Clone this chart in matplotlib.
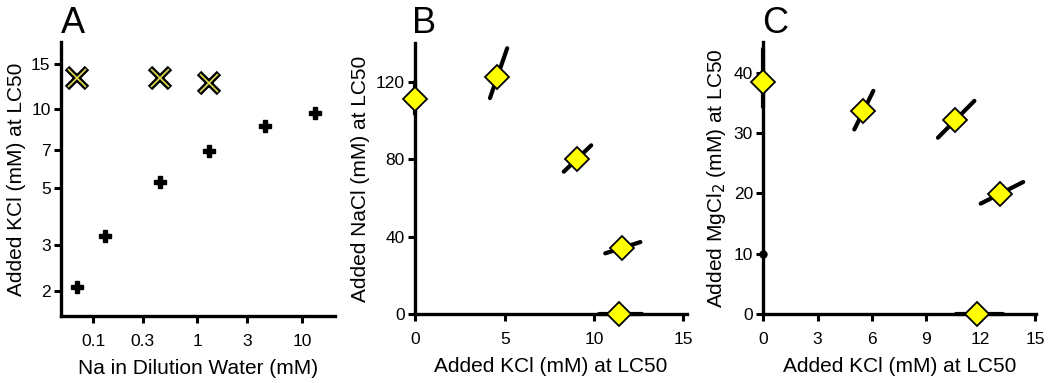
import numpy as np
import matplotlib
matplotlib.use("Agg")
from matplotlib import pyplot as plt
from matplotlib.ticker import FixedLocator, FixedFormatter, NullLocator

plt.rcParams['font.family'] = ['Liberation Sans', 'DejaVu Sans']

# panel A: Na in dilution water vs KCl LC50
na_plus = [0.070, 0.13, 0.44, 1.30, 4.4, 13.2]
kcl_plus = [2.07, 3.26, 5.27, 6.9, 8.67, 9.73]
na_x = [0.070, 0.44, 1.30]
kcl_x = [13.2, 13.2, 12.7]

# panel B: KCl + NaCl mixtures (LC50 and CI factors along the ray)
b_kcl = [0.0, 4.59, 9.03, 11.55, 11.42]
b_nacl = [111.0, 122.6, 80.0, 34.2, 0.0]
b_lo = [0.93, 0.91, 0.92, 0.92, 0.90]
b_hi = [1.08, 1.12, 1.09, 1.09, 1.11]

# panel C: KCl + MgCl2 mixtures
c_kcl = [0.0, 5.52, 10.59, 13.04, 11.79]
c_mg = [38.5, 33.6, 32.1, 19.9, 0.0]
c_lo = [0.89, 0.91, 0.91, 0.92, 0.90]
c_hi = [1.14, 1.10, 1.10, 1.10, 1.12]
c_extra_x = [0.0]
c_extra_y = [10.0]

W, H = 1050, 383
fig = plt.figure(figsize=(W / 100, H / 100), dpi=100)

LAB = 15
TICK = 12.5


def box(l, r, t, b):
    return [l / W, 1 - b / H, (r - l) / W, (b - t) / H]


def style(ax):
    for s in ["top", "right"]:
        ax.spines[s].set_visible(False)
    for s in ["left", "bottom"]:
        ax.spines[s].set_linewidth(2.4)
    ax.tick_params(axis="both", direction="out", length=5, width=2.2,
                   labelsize=TICK, color="black")
    ax.tick_params(axis="y", pad=2.5)
    ax.tick_params(axis="x", pad=8)


def rays(ax, xs, ys, lo, hi):
    for x, y, a, b in zip(xs, ys, lo, hi):
        ax.plot([x * a, x * b], [y * a, y * b], color="black", lw=3,
                solid_capstyle="round", clip_on=False, zorder=3)
    ax.plot(xs, ys, linestyle="none", marker="D", markersize=12,
            markerfacecolor="#ffff00", markeredgecolor="black",
            markeredgewidth=1.3, clip_on=False, zorder=4)


# --- A ---
ax1 = fig.add_axes(box(61, 335, 42, 316))
ax1.set_xscale("log")
ax1.set_yscale("log")
ax1.set_xlim(0.0494, 20.7)
ax1.set_ylim(1.6, 18.2)
style(ax1)
xt = [0.1, 0.3, 1, 3, 10]
yt = [2, 3, 5, 7, 10, 15]
ax1.xaxis.set_major_locator(FixedLocator(xt))
ax1.xaxis.set_major_formatter(FixedFormatter(["0.1", "0.3", "1", "3", "10"]))
ax1.xaxis.set_minor_locator(NullLocator())
ax1.yaxis.set_major_locator(FixedLocator(yt))
ax1.yaxis.set_major_formatter(FixedFormatter([str(v) for v in yt]))
ax1.yaxis.set_minor_locator(NullLocator())
ax1.plot(na_plus, kcl_plus, linestyle="none", marker="P", markersize=9,
         color="black", clip_on=False)
ax1.plot(na_x, kcl_x, linestyle="none", marker="x", markersize=14,
         markeredgewidth=4.5, color="black", clip_on=False)
ax1.plot(na_x, kcl_x, linestyle="none", marker="x", markersize=13,
         markeredgewidth=1.2, color="#e0dc50", clip_on=False)
ax1.set_xlabel("Na in Dilution Water (mM)", fontsize=LAB, labelpad=7)
ax1.set_ylabel("Added KCl (mM) at LC50", fontsize=LAB, labelpad=4)
fig.text(61 / W, 1 - 33 / H, "A", fontsize=26, ha="left", va="baseline")

# --- B ---
ax2 = fig.add_axes(box(415.3, 687, 43, 314.3))
ax2.set_xlim(0, 15.2)
ax2.set_ylim(0, 140)
style(ax2)
ax2.set_xticks([0, 5, 10, 15])
ax2.set_yticks([0, 40, 80, 120])
rays(ax2, b_kcl, b_nacl, b_lo, b_hi)
ax2.set_xlabel("Added KCl (mM) at LC50", fontsize=LAB, labelpad=7)
ax2.set_ylabel("Added NaCl (mM) at LC50", fontsize=LAB, labelpad=4)
fig.text(412 / W, 1 - 33 / H, "B", fontsize=26, ha="left", va="baseline")

# --- C ---
ax3 = fig.add_axes(box(763.3, 1036, 42.3, 314.3))
ax3.set_xlim(0, 15.05)
ax3.set_ylim(0, 45)
style(ax3)
ax3.set_xticks([0, 3, 6, 9, 12, 15])
ax3.set_yticks([0, 10, 20, 30, 40])
rays(ax3, c_kcl, c_mg, c_lo, c_hi)
ax3.plot(c_extra_x, c_extra_y, linestyle="none", marker="o", markersize=5,
         color="black", clip_on=False)
ax3.set_xlabel("Added KCl (mM) at LC50", fontsize=LAB, labelpad=7)
ax3.set_ylabel("Added MgCl$_2$ (mM) at LC50", fontsize=LAB, labelpad=4)
fig.text(762 / W, 1 - 33 / H, "C", fontsize=26, ha="left", va="baseline")

fig.savefig("out.png", dpi=100)
